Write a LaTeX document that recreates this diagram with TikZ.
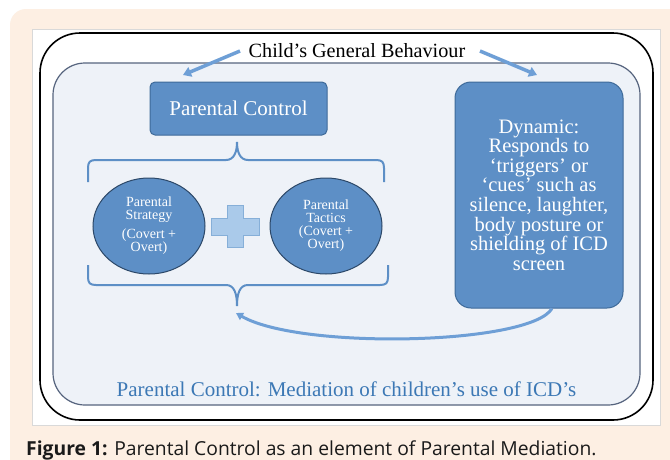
\documentclass[tikz,border=0pt]{standalone}
\usepackage{fontspec}
\setmainfont{Liberation Serif}
\newfontfamily\capfont{Open Sans}
\usetikzlibrary{arrows.meta}
\definecolor{peach}{HTML}{FDEFE3}
\definecolor{panelline}{HTML}{D9D9D9}
\definecolor{innerfill}{HTML}{EEF2F8}
\definecolor{innerline}{HTML}{56647E}
\definecolor{boxfill}{HTML}{5D8FC6}
\definecolor{boxline}{HTML}{3E6A99}
\definecolor{ovalline}{HTML}{2C4868}
\definecolor{plusfill}{HTML}{AACAEA}
\definecolor{plusline}{HTML}{86AFD8}
\definecolor{arrowblue}{HTML}{6E9FD6}
\definecolor{textblue}{HTML}{3C78B5}
\definecolor{captext}{HTML}{1A1A1A}
\tikzset{
  bluebox/.style={draw=boxline, line width=1pt, fill=boxfill, text=white, align=center, inner sep=0pt},
  oval/.style={ellipse, draw=ovalline, line width=1pt, fill=boxfill, text=white, align=center,
    minimum width=112pt, minimum height=96pt, inner sep=0pt,
    font=\fontsize{14}{13}\selectfont},
  brace/.style={draw=boxfill, line width=2pt},
  bluearrow/.style={draw=arrowblue, line width=3.5pt, -{Triangle[length=8pt,width=10pt]}},
  curvearrow/.style={draw=arrowblue, line width=3pt, -{Triangle[length=7pt,width=8pt]}},
}
\usetikzlibrary{shapes.geometric}
\begin{document}
\begin{tikzpicture}[x=1pt,y=-1pt]
\useasboundingbox (0,0) rectangle (670,459);
\fill[white] (0,0) rectangle (670,459);
\fill[peach, rounded corners=16pt] (10,9) rectangle (700,490);
\filldraw[fill=white, draw=panelline, line width=0.6pt] (32,29) rectangle (660,425);
\draw[black, line width=1.6pt, rounded corners=40pt] (40,33) rectangle (653,420);
\draw[fill=innerfill, draw=innerline, line width=1.2pt, rounded corners=32pt] (53,63) rectangle (640,405);

\node[anchor=base, font=\fontsize{20.2}{24}\selectfont] (title) at (357,57) {Child’s General Behaviour};

\node[bluebox, minimum width=177pt, minimum height=53pt, rounded corners=5pt,
  font=\fontsize{21}{24}\selectfont] (pc) at (238.5,108.5) {Parental Control};

\node[bluebox, minimum width=168pt, minimum height=226pt, rounded corners=16pt,
  font=\fontsize{20.5}{19.6}\selectfont] (dyn) at (539,195)
  {Dynamic:\\Responds to\\‘triggers’ or\\‘cues’ such as\\silence, laughter,\\body posture or\\shielding of ICD\\screen};

\node[oval] (strat) at (149,226) {Parental\\Strategy\\[6pt](Covert +\\Overt)};
\node[oval] (tact) at (326,226) {Parental\\Tactics\\(Covert +\\Overt)};

\filldraw[fill=plusfill, draw=plusline, line width=0.8pt]
  (211,218) -- (227,218) -- (227,205) -- (243,205) -- (243,218) -- (259,218)
  -- (259,235) -- (243,235) -- (243,247) -- (227,247) -- (227,235) -- (211,235) -- cycle;

\draw[brace] (88,182) -- (88,168) .. controls (88,162) and (90,160) .. (96,160)
  -- (226,160) .. controls (234,160) and (237,152) .. (237,142)
  .. controls (237,152) and (240,160) .. (248,160)
  -- (376,160) .. controls (382,160) and (384,162) .. (384,168) -- (384,182);
\draw[brace] (88,265) -- (88,277) .. controls (88,283) and (90,285) .. (96,285)
  -- (226,285) .. controls (234,285) and (237,293) .. (237,306)
  .. controls (237,293) and (240,285) .. (248,285)
  -- (380,285) .. controls (386,285) and (388,283) .. (388,277) -- (388,265);

\coordinate (a1s) at (240,51);
\coordinate (a1e) at (183,75);
\coordinate (a2s) at (480,51);
\coordinate (a2e) at (537,75);
\draw[bluearrow] (a1s) -- (a1e);
\draw[bluearrow] (a2s) -- (a2e);

\coordinate (btip) at (236,313);
\draw[curvearrow] ([xshift=13pt]dyn.south) .. controls (530,345) and (300,350) .. (btip);

\node[anchor=base, text=textblue, font=\fontsize{21}{24}\selectfont] (med) at (346.5,396)
  {Parental Control: Mediation of children’s use of ICD’s};

\node[anchor=base west, text=captext, font=\capfont\fontsize{19.3}{22}\selectfont, inner sep=0pt] (cap) at (26,455)
  {\textbf{Figure 1:} Parental Control as an element of Parental Mediation.};
\end{tikzpicture}
\end{document}
